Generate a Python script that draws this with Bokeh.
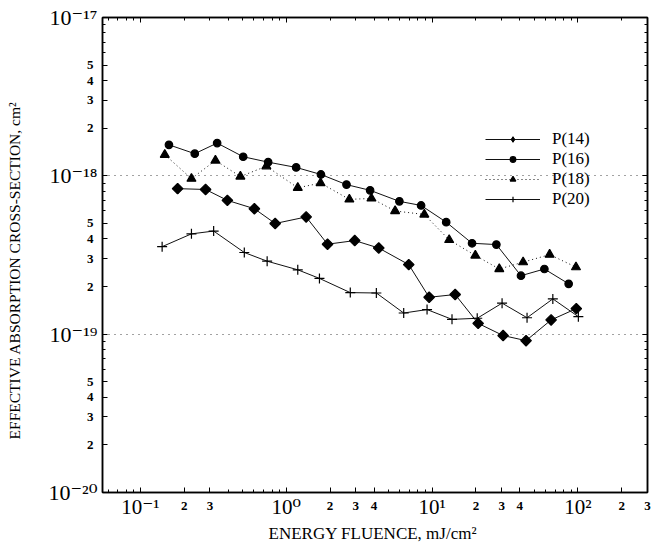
import math
from bokeh.plotting import figure
from bokeh.models import (ColumnDataSource, LogAxis, FixedTicker, Legend,
                          LegendItem, CustomJSTickFormatter)
from bokeh.embed import file_html
from bokeh.resources import INLINE

# ---------------- data ----------------
x_p14 = [0.18, 0.28, 0.395, 0.605, 0.84, 1.37, 1.92, 2.95, 4.31, 6.92, 9.55, 14.4, 20.7, 30.7, 44.1, 65.5, 97.5]
y_p14 = [8.3e-19, 8.2e-19, 7.0e-19, 6.2e-19, 5.0e-19, 5.5e-19, 3.7e-19, 3.9e-19, 3.5e-19, 2.75e-19,
         1.71e-19, 1.78e-19, 1.17e-19, 9.8e-20, 9.1e-20, 1.23e-19, 1.45e-19]

x_p16 = [0.157, 0.236, 0.336, 0.507, 0.752, 1.17, 1.73, 2.59, 3.76, 5.97, 8.41, 12.5, 18.8, 27.6, 40.7, 58.9, 86.4]
y_p16 = [1.57e-18, 1.38e-18, 1.61e-18, 1.32e-18, 1.22e-18, 1.13e-18, 1.02e-18, 8.8e-19, 8.1e-19, 6.9e-19,
         6.5e-19, 5.1e-19, 3.75e-19, 3.68e-19, 2.34e-19, 2.58e-19, 2.08e-19]

x_p18 = [0.147, 0.224, 0.327, 0.485, 0.731, 1.20, 1.72, 2.71, 3.84, 5.58, 8.85, 13.1, 19.8, 28.9, 42.1, 64.0, 97.0]
y_p18 = [1.36e-18, 9.6e-19, 1.25e-18, 9.9e-19, 1.15e-18, 8.4e-19, 9.0e-19, 7.1e-19, 7.2e-19, 6.0e-19,
         5.7e-19, 3.94e-19, 3.14e-19, 2.58e-19, 2.85e-19, 3.18e-19, 2.65e-19]

x_p20 = [0.141, 0.224, 0.318, 0.516, 0.74, 1.20, 1.69, 2.75, 4.15, 6.39, 9.24, 13.7, 20.4, 30.2, 44.8, 67.3, 100.7]
y_p20 = [3.57e-19, 4.3e-19, 4.48e-19, 3.28e-19, 2.89e-19, 2.55e-19, 2.25e-19, 1.83e-19, 1.82e-19, 1.36e-19,
         1.43e-19, 1.24e-19, 1.26e-19, 1.57e-19, 1.27e-19, 1.67e-19, 1.29e-19]

series_names = ["P(14)", "P(16)", "P(18)", "P(20)"]

# tick values and tick labels
x_decades = [0.1, 1, 10, 100]
x_decade_text = ["10⁻¹", "10⁰", "10¹", "10²"]
x_minor_labeled = [0.2, 0.3, 2, 3, 4, 20, 30, 40, 200, 300]
x_minor_text = ["2", "3", "2", "3", "4", "2", "3", "4", "2", "3"]

y_decades = [1e-17, 1e-18, 1e-19, 1e-20]
y_decade_text = ["10⁻¹⁷", "10⁻¹⁸", "10⁻¹⁹", "10⁻²⁰"]
y_minor_labeled = [5e-18, 4e-18, 3e-18, 2e-18, 5e-19, 4e-19, 3e-19, 2e-19, 5e-20, 4e-20, 3e-20, 2e-20]
y_minor_text = ["5", "4", "3", "2"] * 3

x_title = "ENERGY FLUENCE,  mJ/cm²"
y_title = "EFFECTIVE ABSORPTION CROSS-SECTION, cm²"

x_lo, x_hi = 0.055, 300
y_lo, y_hi = 1e-20, 1e-17

SERIF = "Liberation Serif"
SERIF_SUP = "'Liberation Serif', 'DejaVu Serif', serif"

# ---------------- figure ----------------
p = figure(width=652, height=546, x_axis_type="log", y_axis_type="log",
           x_range=(x_lo, x_hi), y_range=(y_lo, y_hi),
           output_backend="svg", toolbar_location=None,
           min_border_left=102, min_border_right=5, min_border_top=17, min_border_bottom=54)
p.background_fill_color = "white"
p.border_fill_color = "white"
p.outline_line_color = "black"
p.outline_line_width = 1.5

xa = p.xaxis[0]
ya = p.yaxis[0]

x_all_minor = [k * 10.0 ** n for n in range(-2, 3) for k in range(1, 10)]
y_all_minor = [k * 10.0 ** n for n in range(-21, -16) for k in range(1, 10)]

LOOKUP = """
for (let i = 0; i < vals.length; i++) {
  if (Math.abs(Math.log10(tick) - Math.log10(vals[i])) < 1e-6) { return txt[i]; }
}
return '';
"""


def lookup_fmt(vals, txt):
    return CustomJSTickFormatter(args=dict(vals=list(vals), txt=list(txt)), code=LOOKUP)


empty_fmt = CustomJSTickFormatter(code="return '';")


def tick_axis(ax, ticks, minor, fmt):
    ax.ticker = FixedTicker(ticks=ticks, minor_ticks=minor)
    ax.formatter = fmt
    ax.major_tick_in = 5
    ax.major_tick_out = 0
    ax.minor_tick_in = 3
    ax.minor_tick_out = 0
    ax.major_tick_line_color = "black"
    ax.minor_tick_line_color = "black"
    ax.axis_line_color = "black"
    ax.axis_line_width = 1.5


def label_axis(ax, ticks, fmt, size):
    ax.ticker = FixedTicker(ticks=ticks, minor_ticks=[])
    ax.formatter = fmt
    ax.axis_line_color = None
    ax.major_tick_line_color = None
    ax.minor_tick_line_color = None
    ax.major_tick_in = 0
    ax.major_tick_out = 0
    ax.minor_tick_in = 0
    ax.minor_tick_out = 0
    ax.major_label_text_font = SERIF_SUP
    ax.major_label_text_font_size = size
    ax.major_label_text_color = "black"


# inner axes: tick marks + small digit labels
tick_axis(xa, sorted(x_decades + x_minor_labeled), x_all_minor, lookup_fmt(x_minor_labeled, x_minor_text))
tick_axis(ya, sorted(y_decades + y_minor_labeled), y_all_minor, lookup_fmt(y_minor_labeled, y_minor_text))
for ax in (xa, ya):
    ax.major_label_text_font = SERIF
    ax.major_label_text_font_size = "13px"
    ax.major_label_text_font_style = "bold"
    ax.major_label_text_color = "black"
    ax.major_label_standoff = 9

# mirrored tick axes on top and right
top_ax = LogAxis()
tick_axis(top_ax, x_decades, x_all_minor, empty_fmt)
top_ax.major_label_standoff = 0
top_ax.major_label_text_font_size = "1px"
p.add_layout(top_ax, "above")
right_ax = LogAxis()
tick_axis(right_ax, y_decades, y_all_minor, empty_fmt)
right_ax.major_label_standoff = 0
right_ax.major_label_text_font_size = "1px"
p.add_layout(right_ax, "right")

# outer axes: decade labels with superscripts, pulled back onto the same row
xdec_ax = LogAxis()
label_axis(xdec_ax, x_decades, lookup_fmt(x_decades, x_decade_text), "21px")
xdec_ax.major_label_standoff = -18
xdec_ax.axis_label = x_title
xdec_ax.axis_label_text_font = SERIF
xdec_ax.axis_label_text_font_size = "17px"
xdec_ax.axis_label_text_font_style = "normal"
xdec_ax.axis_label_text_color = "black"
xdec_ax.axis_label_standoff = 2
p.add_layout(xdec_ax, "below")

ydec_ax = LogAxis()
label_axis(ydec_ax, y_decades, lookup_fmt(y_decades, y_decade_text), "22px")
ydec_ax.major_label_standoff = -14
# trailing no-break spaces nudge the vertical title down to where it sits in the reference
ydec_ax.axis_label = y_title + "\u00a0" * 8
ydec_ax.axis_label_text_font = SERIF
ydec_ax.axis_label_text_font_size = "15.5px"
ydec_ax.axis_label_text_font_style = "normal"
ydec_ax.axis_label_text_color = "black"
ydec_ax.axis_label_standoff = 22
p.add_layout(ydec_ax, "left")

# grid: dotted lines at 1e-18 and 1e-19 only
p.xgrid.visible = False
p.ygrid.ticker = FixedTicker(ticks=[1e-18, 1e-19])
p.ygrid.grid_line_color = "#444444"
p.ygrid.grid_line_dash = "1 5"
p.ygrid.grid_line_width = 1
p.ygrid.minor_grid_line_color = None

# ---------------- series ----------------
specs = [
    (x_p14, y_p14, "square", 7.5, math.pi / 4, "solid"),
    (x_p16, y_p16, "circle", 7.5, 0.0, "solid"),
    (x_p18, y_p18, "triangle", 9, 0.0, "dotted"),
    (x_p20, y_p20, "cross", 10, 0.0, "solid"),
]
items = []
for name, (xs, ys, mk, sz, ang, dash) in zip(series_names, specs):
    src = ColumnDataSource(dict(x=xs, y=ys))
    rl = p.line("x", "y", source=src, line_color="#111111", line_width=1,
                line_dash="1 3" if dash == "dotted" else "solid")
    rm = p.scatter("x", "y", source=src, marker=mk, size=sz, angle=ang,
                   fill_color="black", line_color="black", line_width=1.2)
    if ang != 0.0:
        # the legend does not rotate markers: use a diamond swatch that sits
        # hidden inside the first rotated-square marker
        leg_src = ColumnDataSource(dict(x=xs[:1], y=ys[:1]))
        rm = p.scatter("x", "y", source=leg_src, marker="diamond", size=10.5,
                       fill_color="black", line_color="black", line_width=1.0)
    items.append(LegendItem(label=name, renderers=[rl, rm]))

legend = Legend(items=items, location=(383, 283), glyph_width=55, glyph_height=14,
                label_height=14, spacing=0, padding=0, margin=0,
                border_line_alpha=0, background_fill_alpha=0,
                label_text_font=SERIF, label_text_font_size="17px",
                label_text_color="black", label_standoff=12)
p.add_layout(legend)

open("out.html", "w").write(file_html(p, INLINE))
